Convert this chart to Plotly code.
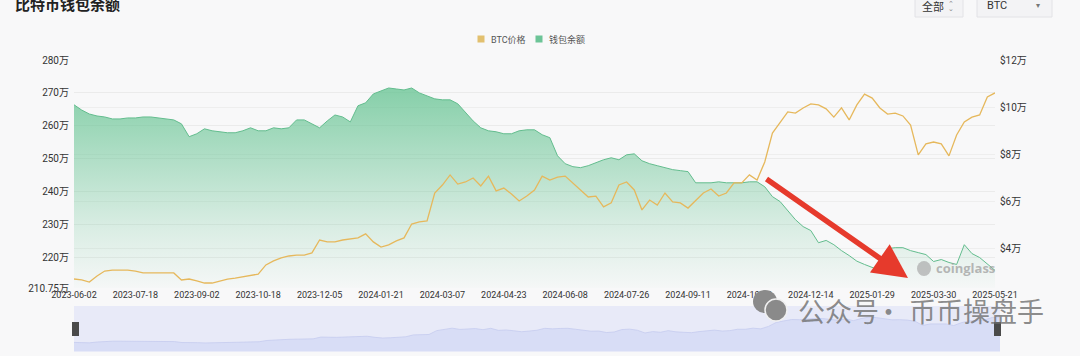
import plotly.graph_objects as go

# ---------------- data ----------------
dates = [
    "2023-06-02", "2023-06-08", "2023-06-14", "2023-06-19", "2023-06-25", "2023-07-01", "2023-07-07", "2023-07-12",
    "2023-07-18", "2023-07-24", "2023-07-30", "2023-08-04", "2023-08-10", "2023-08-16", "2023-08-22", "2023-08-27",
    "2023-09-02", "2023-09-08", "2023-09-14", "2023-09-19", "2023-09-25", "2023-10-01", "2023-10-07", "2023-10-12",
    "2023-10-18", "2023-10-24", "2023-10-30", "2023-11-05", "2023-11-11", "2023-11-17", "2023-11-23", "2023-11-29",
    "2023-12-05", "2023-12-11", "2023-12-17", "2023-12-23", "2023-12-29", "2024-01-03", "2024-01-09", "2024-01-15",
    "2024-01-21", "2024-01-27", "2024-02-02", "2024-02-07", "2024-02-13", "2024-02-19", "2024-02-25", "2024-03-01",
    "2024-03-07", "2024-03-13", "2024-03-19", "2024-03-25", "2024-03-31", "2024-04-05", "2024-04-11", "2024-04-17",
    "2024-04-23", "2024-04-29", "2024-05-05", "2024-05-10", "2024-05-16", "2024-05-22", "2024-05-28", "2024-06-02",
    "2024-06-08", "2024-06-14", "2024-06-20", "2024-06-26", "2024-07-02", "2024-07-08", "2024-07-14", "2024-07-20",
    "2024-07-26", "2024-08-01", "2024-08-07", "2024-08-13", "2024-08-19", "2024-08-24", "2024-08-30", "2024-09-05",
    "2024-09-11", "2024-09-17", "2024-09-23", "2024-09-29", "2024-10-05", "2024-10-10", "2024-10-16", "2024-10-22",
    "2024-10-28", "2024-11-03", "2024-11-09", "2024-11-15", "2024-11-21", "2024-11-26", "2024-12-02", "2024-12-08",
    "2024-12-14", "2024-12-20", "2024-12-26", "2024-12-31", "2025-01-06", "2025-01-12", "2025-01-18", "2025-01-23",
    "2025-01-29", "2025-02-06", "2025-02-13", "2025-02-21", "2025-02-28", "2025-03-08", "2025-03-15", "2025-03-23",
    "2025-03-30", "2025-04-06", "2025-04-12", "2025-04-19", "2025-04-25", "2025-05-02", "2025-05-08", "2025-05-15",
    "2025-05-21",
]

wallet_balance = [  # BTC
    2664000, 2648000, 2636000, 2630000, 2627000, 2621000, 2621000, 2624000,
    2624000, 2627000, 2627000, 2624000, 2621000, 2618000, 2606000, 2567000,
    2576000, 2591000, 2585000, 2582000, 2579000, 2579000, 2585000, 2594000,
    2585000, 2585000, 2594000, 2591000, 2594000, 2618000, 2618000, 2606000,
    2594000, 2615000, 2633000, 2627000, 2612000, 2661000, 2670000, 2697000,
    2706000, 2715000, 2712000, 2709000, 2715000, 2700000, 2691000, 2682000,
    2679000, 2679000, 2667000, 2642000, 2615000, 2594000, 2585000, 2582000,
    2576000, 2576000, 2585000, 2588000, 2588000, 2573000, 2564000, 2509000,
    2485000, 2476000, 2473000, 2479000, 2488000, 2497000, 2503000, 2497000,
    2512000, 2515000, 2494000, 2485000, 2479000, 2473000, 2467000, 2464000,
    2461000, 2427000, 2427000, 2427000, 2430000, 2427000, 2427000, 2427000,
    2430000, 2430000, 2415000, 2385000, 2370000, 2342000, 2315000, 2294000,
    2282000, 2245000, 2252000, 2239000, 2221000, 2206000, 2189000, 2179000,
    2170000, 2161000, 2227000, 2230000, 2230000, 2221000, 2215000, 2209000,
    2188000, 2194000, 2185000, 2179000, 2239000, 2212000, 2200000, 2179000,
    2161000,
]

btc_price = [  # USD
    26800, 26400, 25500, 28100, 30200, 30600, 30600, 30600,
    30200, 29400, 29400, 29400, 29400, 29400, 26400, 26800,
    26000, 25100, 25100, 26000, 26800, 27200, 27700, 28100,
    28900, 32800, 34500, 35800, 36600, 37000, 37000, 37900,
    43400, 42600, 42600, 43400, 43800, 44300, 46000, 42600,
    40400, 41300, 43000, 44300, 50200, 51100, 51500, 63400,
    66800, 71100, 67200, 68100, 69800, 66400, 70600, 64300,
    65500, 63000, 60000, 62100, 64700, 70600, 68900, 70200,
    70600, 67700, 64700, 61700, 62100, 57500, 59200, 66800,
    68100, 64700, 56200, 60400, 58300, 63400, 59600, 59200,
    57000, 60400, 63400, 65100, 62100, 63400, 67700, 67700,
    71100, 68900, 76600, 88900, 93600, 97900, 97400, 99600,
    101300, 100900, 99200, 95700, 99600, 94500, 100900, 105500,
    103800, 99600, 97000, 97400, 96200, 92300, 79600, 84300,
    85100, 84300, 79200, 88100, 93600, 95700, 96600, 104300,
    106000,
]

series_names = ["BTC价格", "钱包余额"]
series_colors = ["#e2c06f", "#6cc497"]

x_tick_dates = [
    "2023-06-02", "2023-07-18", "2023-09-02", "2023-10-18", "2023-12-05", "2024-01-21",
    "2024-03-07", "2024-04-23", "2024-06-08", "2024-07-26", "2024-09-11", "2024-10-28",
    "2024-12-14", "2025-01-29", "2025-03-30", "2025-05-21",
]
left_tick_vals = [2107500, 2200000, 2300000, 2400000, 2500000, 2600000, 2700000, 2800000]
left_tick_text = ["210.75万", "220万", "230万", "240万", "250万", "260万", "270万", "280万"]
right_tick_vals = [40000, 60000, 80000, 100000, 120000]
right_tick_text = ["$4万", "$6万", "$8万", "$10万", "$12万"]

# ---------------- layout helpers (pixel -> paper) ----------------
W, H = 1080, 356
ML, MR, MT, MB = 74, 80, 60, 4
PW, PH = W - ML - MR, H - MT - MB


def px(x):
    return (x - ML) / PW


def py(y):
    return (H - MB - y) / PH


FONT = "Roboto, 'Noto Sans CJK SC', sans-serif"
CJK = "'Noto Sans CJK SC', sans-serif"
GREEN = "#63bd8e"
GOLD = "#e6b85c"

fig = go.Figure()

fig.add_trace(go.Scatter(
    x=dates, y=wallet_balance, name=series_names[1], mode="lines",
    line=dict(color=GREEN, width=1), fill="tozeroy",
    fillgradient=dict(type="vertical",
                      colorscale=[[0, "rgba(100,195,145,0.02)"], [0.3, "rgba(100,195,145,0.2)"],
                                  [1, "rgba(100,195,145,0.75)"]],
                      start=2107500, stop=2700000),
    xaxis="x", yaxis="y", hoverinfo="skip"))

fig.add_trace(go.Scatter(
    x=dates, y=btc_price, name=series_names[0], mode="lines",
    line=dict(color=GOLD, width=1.3),
    xaxis="x", yaxis="y2", hoverinfo="skip"))

# range-slider style overview
fig.add_trace(go.Scatter(
    x=dates, y=btc_price, mode="lines", line=dict(color="#c5ccef", width=0.8),
    fill="tozeroy", fillcolor="#d8ddf6",
    xaxis="x2", yaxis="y3", hoverinfo="skip"))

main_bottom = py(288)
fig.update_layout(
    width=W, height=H,
    margin=dict(l=ML, r=MR, t=MT, b=MB, autoexpand=False),
    paper_bgcolor="#f8f8f9", plot_bgcolor="#f8f8f9",
    font=dict(family=FONT, size=10, color="#333"),
    showlegend=False,
    xaxis=dict(type="category", domain=[0, (995 - ML) / PW], range=[0, len(dates) - 1],
               anchor="y", tickvals=x_tick_dates, ticktext=x_tick_dates,
               showgrid=False, zeroline=False, showline=False, ticks="",
               tickfont=dict(size=9, color="#333")),
    yaxis=dict(domain=[main_bottom, 1], range=[2107500, 2800000], anchor="x",
               tickvals=left_tick_vals, ticktext=left_tick_text,
               gridcolor="#ebebeb", zeroline=False, showline=False, ticks="",
               tickfont=dict(size=10, color="#333"), ticklabelstandoff=4),
    yaxis2=dict(overlaying="y", side="right", range=[22980, 120000], anchor="x",
                tickvals=right_tick_vals, ticktext=right_tick_text,
                gridcolor="#eeeeee", zeroline=False, showline=False, ticks="",
                tickfont=dict(size=10, color="#333"), ticklabelstandoff=4),
    xaxis2=dict(type="category", domain=[0, 1], range=[0, len(dates) - 1], anchor="y3",
                showticklabels=False, showgrid=False, zeroline=False, ticks=""),
    yaxis3=dict(domain=[0, py(306)], range=[-3000, 140000], anchor="x2", visible=False),
)

# legend keys (square swatches)
legend_x = [481, 539]
shapes = [
    dict(type="rect", xref="paper", yref="paper", x0=px(lx - 3.5), x1=px(lx + 3.5),
         y0=py(42.5), y1=py(35.5), fillcolor=c, line=dict(width=0))
    for lx, c in zip(legend_x, series_colors)
]
shapes += [
    # overview background
    dict(type="rect", xref="x2 domain", yref="y3 domain", x0=0, x1=1, y0=0, y1=1,
         fillcolor="#e8eaf8", line=dict(width=0), layer="below"),
    # overview handles
    dict(type="rect", xref="paper", yref="paper", x0=px(72), x1=px(79), y0=py(336), y1=py(322),
         fillcolor="#4a4a4a", line=dict(width=0)),
    dict(type="rect", xref="paper", yref="paper", x0=px(994), x1=px(1001), y0=py(336), y1=py(322),
         fillcolor="#4a4a4a", line=dict(width=0)),
    # top-right selectors
    dict(type="rect", xref="paper", yref="paper", x0=px(915), x1=px(963), y0=py(17), y1=py(-4),
         fillcolor="#f3f3f5", line=dict(color="#e2e2e6", width=1)),
    dict(type="rect", xref="paper", yref="paper", x0=px(977), x1=px(1052), y0=py(17), y1=py(-4),
         fillcolor="#f3f3f5", line=dict(color="#e2e2e6", width=1)),
    # coinglass logo blob
    dict(type="circle", xref="paper", yref="paper", x0=px(917), x1=px(931), y0=py(276), y1=py(261),
         fillcolor="rgba(165,165,165,0.65)", line=dict(width=0)),
    # wechat icon
    dict(type="circle", xref="paper", yref="paper", x0=px(753), x1=px(777), y0=py(313), y1=py(290),
         fillcolor="#8a8a8a", line=dict(width=0)),
    dict(type="circle", xref="paper", yref="paper", x0=px(765), x1=px(787), y0=py(321), y1=py(299),
         fillcolor="#8a8a8a", line=dict(color="#f0f0f0", width=1.5)),
]
fig.update_layout(shapes=shapes)


def note(text, x, y, xa, size, color, family=CJK, ya="middle"):
    return dict(text=text, x=px(x), y=py(y), xref="paper", yref="paper", showarrow=False,
                xanchor=xa, yanchor=ya, font=dict(family=family, size=size, color=color))


WM = "rgba(110,110,110,0.8)"
annotations = [note(n, lx + 8, 39, "left", 9, "#555", FONT) for n, lx in zip(series_names, legend_x)]
annotations += [
    note("<b>比特币钱包余额</b>", 13, 4, "left", 15, "#222"),
    note("全部", 920, 6, "left", 11, "#333"),
    note("⌃", 951, 4, "center", 7, "#888", "DejaVu Sans"),
    note("⌄", 951, 9, "center", 7, "#888", "DejaVu Sans"),
    note("BTC", 985, 6, "left", 11, "#333", FONT),
    note("▾", 1038, 6, "center", 8, "#777", "DejaVu Sans"),
    note("<b>coinglass</b>", 934, 268, "left", 13, "rgba(160,160,160,0.75)", "'Open Sans', sans-serif"),
    note("公众号", 796, 310, "left", 27, WM),
    note("·", 888, 310, "center", 27, WM),
    note("币币操盘手", 1046, 310, "right", 27, WM),
    # red arrow
    dict(text="", x=px(908), y=py(278), xref="paper", yref="paper", showarrow=True,
         ax=765 - 908, ay=178 - 278, arrowhead=2, arrowwidth=5.5, arrowsize=1.25,
         arrowcolor="#e63a2c", standoff=0),
]
fig.update_layout(annotations=annotations)

fig.write_html("out.html", config={"displayModeBar": False},
               post_script="document.body.style.margin='0';document.body.style.padding='0';"
                           "document.body.style.overflow='hidden';")
